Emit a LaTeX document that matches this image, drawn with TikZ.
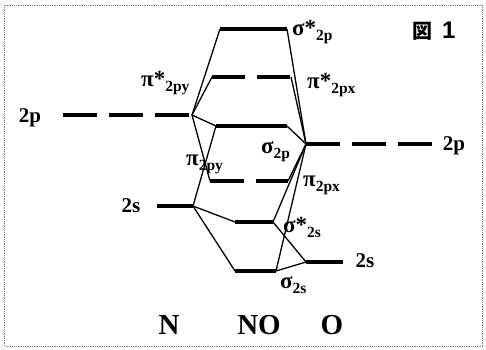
\documentclass[tikz,border=0pt]{standalone}
\usepackage{fontspec}
\setmainfont{Liberation Serif}
\newfontfamily\cjk{Noto Sans CJK JP}
\newfontfamily\sansb{Liberation Sans}
% lowered subscript for orbital labels
\newcommand{\lsub}[1]{\raisebox{-0.5ex}{\fontsize{15.5}{15.5}\selectfont\bfseries #1}}
\begin{document}
\begin{tikzpicture}[x=1pt,y=-1pt,
  orb/.style={line width=3.5pt},
  dorb/.style={line width=3.5pt,dash pattern=on 34pt off 12pt},
  tie/.style={line width=1.3pt},
  lbl/.style={font=\fontsize{23}{23}\selectfont\bfseries,inner sep=0pt,anchor=base west},
  shell/.style={font=\fontsize{21}{21}\selectfont\bfseries,inner sep=0pt,anchor=base},
  atom/.style={font=\fontsize{29}{29}\selectfont\bfseries,inner sep=0pt,anchor=base}]
\useasboundingbox (0,0) rectangle (486,349);
\draw[gray,line width=0.8pt,densely dotted] (4,5) rectangle (482,346);
% atomic levels
\coordinate (N2pa) at (63,115);  \coordinate (N2pb) at (192,115);
\coordinate (N2sa) at (157,206); \coordinate (N2sb) at (193,206);
\coordinate (O2pa) at (306,144); \coordinate (O2pb) at (435,144);
\coordinate (O2sa) at (306,262); \coordinate (O2sb) at (343,262);
% molecular levels
\coordinate (SPa) at (220,29);  \coordinate (SPb) at (287,29);
\coordinate (PPa) at (212,77);  \coordinate (PPb) at (291,77);
\coordinate (SBa) at (216,126); \coordinate (SBb) at (287,126);
\coordinate (PBa) at (210,181); \coordinate (PBb) at (288,181);
\coordinate (SSa) at (235,222); \coordinate (SSb) at (273,222);
\coordinate (SGa) at (235,271); \coordinate (SGb) at (276,271);
\draw[dorb] (N2pa)--(N2pb);
\draw[orb] (N2sa)--(N2sb);
\draw[dorb] (O2pa)--(O2pb);
\draw[orb] (O2sa)--(O2sb);
\draw[orb] (SPa)--(SPb);
\draw[orb,dash pattern=on 33pt off 12pt] (PPa)--(PPb);
\draw[orb] (SBa)--(SBb);
\draw[orb,dash pattern=on 34pt off 12pt] (PBa)--(PBb);
\draw[orb] (SSa)--(SSb);
\draw[orb] (SGa)--(SGb);
% correlation lines
\draw[tie] (N2pb)--(SPa);
\draw[tie] (N2pb)--(PPa);
\draw[tie] (N2pb)--(SBa);
\draw[tie] (N2pb)--(PBa);
\draw[tie] (SBa)--(N2sb);
\draw[tie] (N2sb)--(SSa);
\draw[tie] (N2sb)--(SGa);
\draw[tie] (O2pa)--(SPb);
\draw[tie] (O2pa)--(PPb);
\draw[tie] (O2pa)--(SBb);
\draw[tie] (O2pa)--(PBb);
\draw[tie] (O2pa)--(SSb);
\draw[tie] (O2pa)--(SGb);
\draw[tie] (O2sa)--(SSb);
\draw[tie] (O2sa)--(SGb);
% labels
\node[shell] (lN2p) at (30,122) {2p};
\node[shell] (lN2s) at (131,212) {2s};
\node[shell] (lO2p) at (454,150) {2p};
\node[shell] (lO2s) at (365,267) {2s};
\node[lbl] (lSP) at (292,35) {σ*\lsub{2p}};
\node[lbl] (lPPy) at (141,86) {π*\lsub{2py}};
\node[lbl] (lPPx) at (307,88) {π*\lsub{2px}};
\node[lbl] (lSB) at (261,153) {σ\lsub{2p}};
\node[lbl] (lPBy) at (186,165) {π\lsub{2py}};
\node[lbl] (lPBx) at (303,186) {π\lsub{2px}};
\node[lbl] (lSS) at (283,232) {σ*\lsub{2s}};
\node[lbl] (lSG) at (280,288) {σ\lsub{2s}};
\node[atom] (N) at (169,334) {N};
\node[atom] (NO) at (259,334) {NO};
\node[atom] (O) at (332,334) {O};
\node[inner sep=0pt,anchor=base west] (fig) at (412,38) {{\fontsize{20}{20}\selectfont\cjk\bfseries 図}\hspace{10pt}{\fontsize{24}{24}\selectfont\sansb\bfseries 1}};
\end{tikzpicture}
\end{document}
